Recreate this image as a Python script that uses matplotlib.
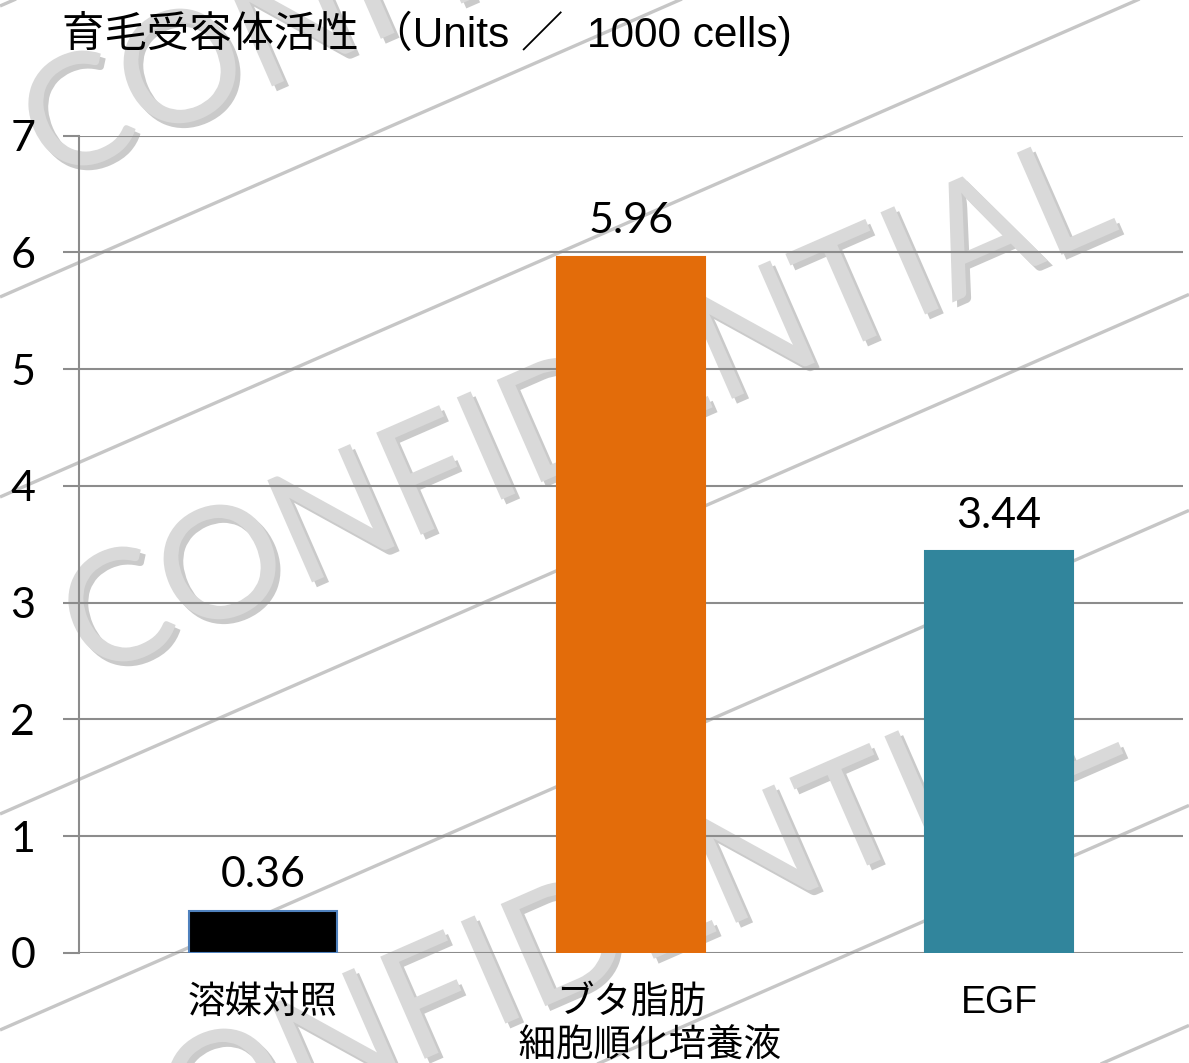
import matplotlib
matplotlib.use("Agg")
import matplotlib.pyplot as plt
import matplotlib.patheffects as pe
import numpy as np

categories = ["溶媒対照", "ブタ脂肪\n\u3000細胞順化培養液", "EGF"]
values = [0.36, 5.96, 3.44]
bar_colors = ["#000000", "#e36c0a", "#31859c"]
edge_colors = ["#4f81bd", "#e36c0a", "#31859c"]
y_ticks = [0, 1, 2, 3, 4, 5, 6, 7]
title = "育毛受容体活性 （Units ／  1000 cells)"

W, H = 1189, 1063
LATIN_CJK = ["Liberation Sans", "Noto Sans CJK JP"]
NUM_FONT = ["Lato", "DejaVu Sans"]
GRID = "#8c8c8c"

fig = plt.figure(figsize=(W / 100, H / 100), dpi=100)
fig.patch.set_facecolor("white")

# watermark layer (pixel coordinates, y down)
bg = fig.add_axes([0, 0, 1, 1], zorder=0)
bg.set_xlim(0, W)
bg.set_ylim(H, 0)
bg.axis("off")

slope = 0.437
angle = np.degrees(np.arctan(slope))
for y0 in [6, 297, 497, 814, 1030, 1325, 1545]:
    bg.plot([0, W], [y0, y0 - slope * W], color="#c6c6c6", lw=2.4, solid_capstyle="butt")

shadow = [pe.SimplePatchShadow(offset=(3.5, -3.5), shadow_rgbFace="#8a8a8a", alpha=0.45), pe.Normal()]
for cx, cy in [(548, -82), (588, 414), (592, 938)]:
    bg.text(cx, cy, "CONFIDENTIAL", fontsize=112, family=NUM_FONT, color="#d9d9d9",
            rotation=angle, rotation_mode="anchor", ha="center", va="center",
            path_effects=shadow)

# chart
ax = fig.add_axes([79 / W, 1 - 953 / H, (1183 - 79) / W, (953 - 135.6) / H], zorder=1)
ax.patch.set_alpha(0)

x = np.arange(len(categories))
ax.bar(x, values, width=0.4, color=bar_colors, edgecolor=edge_colors, linewidth=1.5, zorder=3)

for xi, v in zip(x, values):
    ax.annotate(f"{v:.2f}", (xi, v), xytext=(0, 12), textcoords="offset points",
                ha="center", va="bottom", fontsize=31, family=NUM_FONT, color="black")

ax.set_xlim(-0.5, 2.5)
ax.set_ylim(0, 7)
ax.set_yticks(y_ticks)
ax.set_yticklabels([str(t) for t in y_ticks], fontsize=31, family=NUM_FONT)
ax.set_xticks(x)
ax.set_xticklabels(categories, fontsize=27, family=LATIN_CJK, linespacing=1.25)

ax.grid(axis="y", color=GRID, lw=1.5)
ax.set_axisbelow(True)
for side in ["top", "right", "bottom"]:
    ax.spines[side].set_visible(False)
ax.spines["left"].set_color(GRID)
ax.spines["left"].set_linewidth(1.5)

ax.tick_params(axis="y", length=11.5, width=1.5, color=GRID, pad=20)
ax.tick_params(axis="x", length=0, pad=23)

fig.text(62 / W, 1 - 33 / H, title, ha="left", va="center", fontsize=30.5, family=LATIN_CJK)

fig.savefig("out.png", dpi=100)
